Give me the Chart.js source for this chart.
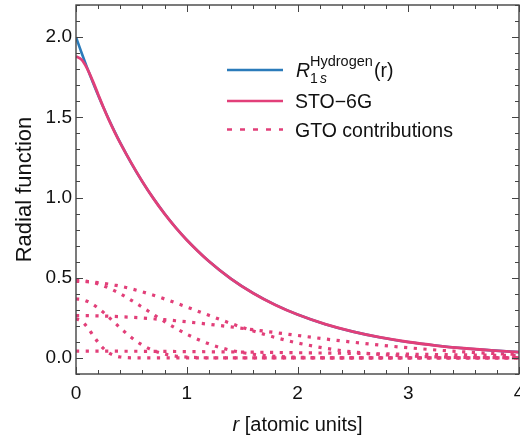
<!DOCTYPE html>
<html>
<head>
<meta charset="utf-8">
<script src="https://cdn.jsdelivr.net/npm/chart.js@4"></script>
<style>
  html, body { margin: 0; padding: 0; background: #fff; }
  #wrap { position: relative; width: 520px; height: 435px; }
</style>
</head>
<body>
<div id="wrap"><canvas id="radialChart" width="520" height="435"></canvas></div>
<script>
/* ---------- data ---------- */
const rValues = [0, 0.05, 0.1, 0.15, 0.2, 0.25, 0.3, 0.35, 0.4, 0.5, 0.6, 0.7, 0.8, 0.9, 1.0,
                 1.2, 1.4, 1.6, 1.8, 2.0, 2.25, 2.5, 2.75, 3.0, 3.25, 3.5, 3.75, 4.0];

const hydrogen = [2.0, 1.9025, 1.8097, 1.7214, 1.6375, 1.5576, 1.4816, 1.4094, 1.3406, 1.2131, 1.0976, 0.9932, 0.8987, 0.8131, 0.7358,
                  0.6024, 0.4932, 0.4038, 0.3306, 0.2707, 0.2108, 0.1642, 0.1278, 0.0996, 0.0776, 0.0604, 0.0470, 0.0366];

const sto6g = [1.8792, 1.8597, 1.8055, 1.7289, 1.6427, 1.5580, 1.4790, 1.4067, 1.3395, 1.2145, 1.0987, 0.9930, 0.8978, 0.8126, 0.7358,
               0.6028, 0.4932, 0.4035, 0.3305, 0.2707, 0.2110, 0.1643, 0.1278, 0.0994, 0.0775, 0.0604, 0.0472, 0.0367];

const gto1 = [0.2440, 0.2303, 0.1936, 0.1451, 0.0968, 0.0576, 0.0305, 0.0144, 0.0061, 0.0008, 0.0001, 0, 0, 0, 0,
              0, 0, 0, 0, 0, 0, 0, 0, 0, 0, 0, 0, 0];
const gto2 = [0.3682, 0.3644, 0.3530, 0.3348, 0.3108, 0.2826, 0.2515, 0.2192, 0.1870, 0.1277, 0.0801, 0.0462, 0.0245, 0.0119, 0.0053,
              0.0008, 0.0001, 0, 0, 0, 0, 0, 0, 0, 0, 0, 0, 0];
const gto3 = [0.4836, 0.4822, 0.4779, 0.4709, 0.4612, 0.4491, 0.4347, 0.4183, 0.4001, 0.3596, 0.3157, 0.2706, 0.2265, 0.1852, 0.1479,
              0.0878, 0.0474, 0.0233, 0.0104, 0.0042, 0.0012, 0.0003, 0.0001, 0, 0, 0, 0, 0];
const gto4 = [0.4772, 0.4767, 0.4752, 0.4728, 0.4694, 0.4652, 0.4600, 0.4539, 0.4471, 0.4310, 0.4121, 0.3909, 0.3677, 0.3431, 0.3176,
              0.2655, 0.2148, 0.1683, 0.1276, 0.0936, 0.0608, 0.0375, 0.0220, 0.0122, 0.0065, 0.0033, 0.0016, 0.0007];
const gto5 = [0.2638, 0.2637, 0.2634, 0.2629, 0.2622, 0.2612, 0.2601, 0.2588, 0.2572, 0.2536, 0.2492, 0.2442, 0.2384, 0.2321, 0.2252,
              0.2101, 0.1935, 0.1760, 0.1581, 0.1402, 0.1185, 0.0982, 0.0798, 0.0636, 0.0497, 0.0380, 0.0286, 0.0210];
const gto6 = [0.0424, 0.0424, 0.0424, 0.0424, 0.0423, 0.0423, 0.0422, 0.0421, 0.0420, 0.0418, 0.0415, 0.0411, 0.0407, 0.0403, 0.0398,
              0.0386, 0.0374, 0.0359, 0.0344, 0.0327, 0.0305, 0.0283, 0.0259, 0.0236, 0.0213, 0.0191, 0.0170, 0.0150];

const xTickValues = [0, 1, 2, 3, 4];
const yTickValues = [0, 0.5, 1.0, 1.5, 2.0];
const legendLabels = ["STO\u22126G", "GTO contributions"];

/* ---------- look ---------- */
const BLUE = "#2b7bba";
const PINK = "#e23f79";
const FRAME = "#444444";
const FONT = "'Liberation Sans', Arial, sans-serif";

function pts(ys){
  return rValues.map((r, i) => ({x: r, y: ys[i]}));
}

const gtoSets = [gto1, gto2, gto3, gto4, gto5, gto6].map(g => ({
  data: pts(g),
  borderColor: PINK,
  borderWidth: 3.2,
  borderDash: [3.2, 6.5],
  pointRadius: 0,
  cubicInterpolationMode: "monotone"
}));

/* frame with inward ticks, like the original */
const framePlugin = {
  id: "frame",
  afterDatasetsDraw(chart){
    const {ctx, chartArea: a, scales: {x, y}} = chart;
    ctx.save();
    ctx.strokeStyle = FRAME;
    ctx.lineWidth = 1.4;
    ctx.strokeRect(a.left, a.top, a.right - a.left, a.bottom - a.top);
    ctx.lineWidth = 1;
    ctx.beginPath();
    for(let v = 0; v <= 4.0001; v += 0.2){
      const px = Math.round(x.getPixelForValue(v)) + 0.5;
      const major = Math.abs(v - Math.round(v)) < 1e-6;
      const len = major ? 7 : 4;
      ctx.moveTo(px, a.bottom); ctx.lineTo(px, a.bottom - len);
      ctx.moveTo(px, a.top); ctx.lineTo(px, a.top + len);
    }
    for(let v = -0.1; v <= 2.2001; v += 0.1){
      const py = Math.round(y.getPixelForValue(v)) + 0.5;
      const major = Math.abs(v * 2 - Math.round(v * 2)) < 1e-6;
      const len = major ? 7 : 4;
      ctx.moveTo(a.left, py); ctx.lineTo(a.left + len, py);
      ctx.moveTo(a.right, py); ctx.lineTo(a.right - len, py);
    }
    ctx.stroke();
    ctx.restore();
  },
  afterDraw(chart){
    const {ctx, chartArea: a} = chart;
    ctx.save();
    ctx.fillStyle = "#111";
    ctx.textBaseline = "alphabetic";

    // x axis title with italic r
    const cx = (a.left + a.right) / 2;
    ctx.font = "italic 20px " + FONT;
    const w1 = ctx.measureText("r").width;
    ctx.font = "20px " + FONT;
    const w2 = ctx.measureText(" [atomic units]").width;
    const x0 = cx - (w1 + w2) / 2;
    ctx.font = "italic 20px " + FONT;
    ctx.fillText("r", x0, 431);
    ctx.font = "20px " + FONT;
    ctx.fillText(" [atomic units]", x0 + w1, 431);

    // legend
    const lx0 = 227, lx1 = 283, tx = 295;
    ctx.lineWidth = 2.6;
    ctx.strokeStyle = BLUE;
    ctx.beginPath(); ctx.moveTo(lx0, 70); ctx.lineTo(lx1, 70); ctx.stroke();
    ctx.strokeStyle = PINK;
    ctx.beginPath(); ctx.moveTo(lx0, 101); ctx.lineTo(lx1, 101); ctx.stroke();
    ctx.setLineDash([5, 8]);
    ctx.beginPath(); ctx.moveTo(lx0, 129.5); ctx.lineTo(lx1, 129.5); ctx.stroke();
    ctx.setLineDash([]);

    ctx.font = "italic 19.5px " + FONT;
    ctx.fillText("R", tx + 1, 77);
    ctx.font = "14px " + FONT;
    ctx.fillText("1", 310, 83);
    ctx.font = "italic 14px " + FONT;
    ctx.fillText("s", 320, 83);
    ctx.font = "14.5px " + FONT;
    ctx.fillText("Hydrogen", 310, 66);
    ctx.font = "19.5px " + FONT;
    ctx.fillText("(r)", 374, 77);
    ctx.fillText(legendLabels[0], tx, 108);
    ctx.fillText(legendLabels[1], tx, 137);
    ctx.restore();
  }
};

new Chart(document.getElementById("radialChart"), {
  type: "line",
  data: {
    datasets: [
      { data: pts(sto6g), borderColor: PINK, borderWidth: 2.8, pointRadius: 0, cubicInterpolationMode: "monotone" },
      { data: pts(hydrogen), borderColor: BLUE, borderWidth: 2.6, pointRadius: 0, cubicInterpolationMode: "monotone" },
      ...gtoSets
    ]
  },
  options: {
    responsive: false,
    animation: false,
    layout: { padding: { top: 5, right: 1, left: 0, bottom: 0 } },
    plugins: { legend: { display: false }, tooltip: { enabled: false } },
    scales: {
      x: {
        type: "linear",
        min: 0, max: 4,
        afterBuildTicks: s => { s.ticks = xTickValues.map(v => ({value: v})); },
        afterFit: s => { s.height = 61; s.paddingLeft = 0; s.paddingRight = 0; },
        grid: { display: false },
        border: { display: false },
        ticks: { color: "#111", font: { family: FONT, size: 19 }, padding: 0, maxRotation: 0,
                 callback: v => String(v) }
      },
      y: {
        min: -0.1, max: 2.2,
        afterBuildTicks: s => { s.ticks = yTickValues.map(v => ({value: v})); },
        afterFit: s => { s.width = 76; s.paddingTop = 0; s.paddingBottom = 0; },
        grid: { display: false },
        border: { display: false },
        ticks: { color: "#111", font: { family: FONT, size: 19 }, padding: -4,
                 callback: v => v.toFixed(1) },
        title: { display: true, text: "Radial function", color: "#111",
                 font: { family: FONT, size: 22, lineHeight: 1.2 }, padding: { top: 12, bottom: 0 } }
      }
    }
  },
  plugins: [framePlugin]
});
</script>
</body>
</html>
